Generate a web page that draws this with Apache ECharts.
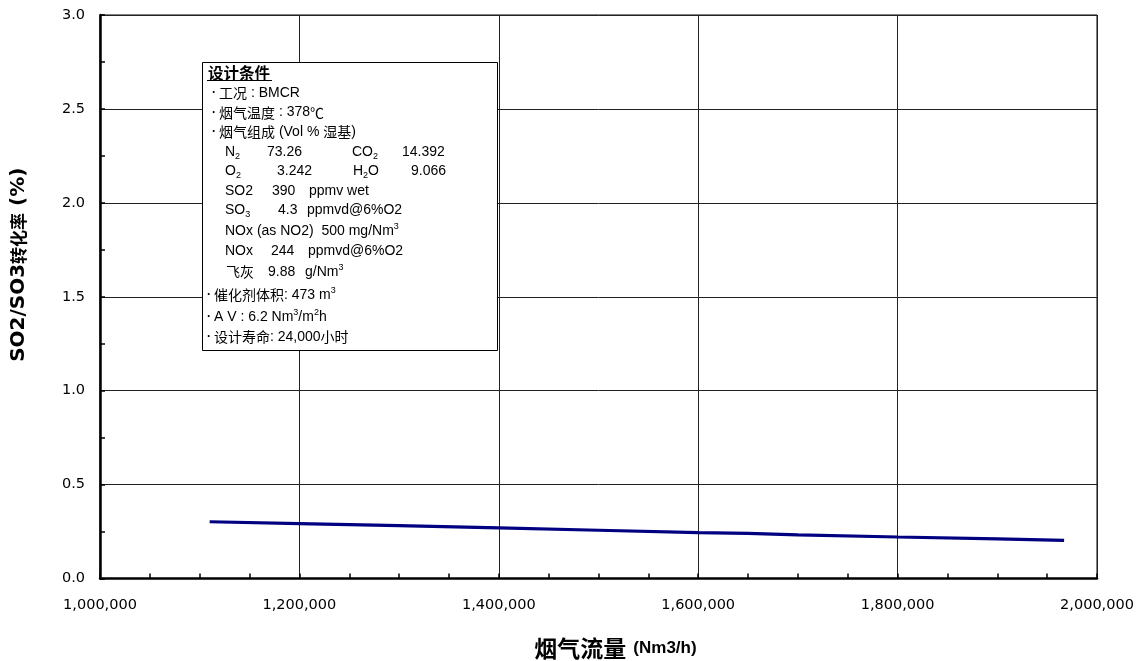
<!DOCTYPE html>
<html>
<head>
<meta charset="utf-8">
<script src="https://cdn.jsdelivr.net/npm/echarts@6/dist/echarts.min.js"></script>
<style>
html,body{margin:0;padding:0;background:#fff;overflow:hidden;width:1145px;height:661px;}
#chart{width:1145px;height:661px;}
</style>
</head>
<body>
<div id="chart"></div>
<script>
// Data
const flowValues = [1110000, 1200000, 1300000, 1400000, 1500000, 1600000, 1650000, 1700000, 1800000, 1900000, 1967000];
const conversionValues = [0.302, 0.292, 0.282, 0.270, 0.257, 0.244, 0.240, 0.232, 0.221, 0.211, 0.203];
const xAxisTitle = '{c|烟气流量}{l|(Nm3/h)}';
const yAxisTitle = '{l|SO2/SO3}{c|转化率}{l| (%)}';

const LAT = '"Liberation Sans", Arial, sans-serif';
const CJK = '"Noto Sans CJK SC", sans-serif';
const TICK = '"DejaVu Sans", sans-serif';

const rich = {
  n: {fontFamily: LAT, fontSize: 14, color: '#000', lineHeight: 18, verticalAlign: 'middle'},
  c: {fontFamily: CJK, fontSize: 14, color: '#000', lineHeight: 18, verticalAlign: 'middle'},
  b: {fontFamily: LAT, fontSize: 12, fontWeight: 'bold', color: '#000', lineHeight: 18, verticalAlign: 'middle', width: 7},
  sub: {fontFamily: LAT, fontSize: 9, color: '#000', lineHeight: 9, verticalAlign: 'bottom'},
  sup: {fontFamily: LAT, fontSize: 9, color: '#000', lineHeight: 9, verticalAlign: 'top'}
};

function t(x, y, str) {
  return {
    type: 'text', x: x, y: y, z: 101,
    style: {text: str, rich: rich, verticalAlign: 'middle', align: 'left'}
  };
}

const noteElements = [
  {type: 'rect', z: 100, shape: {x: 202.5, y: 62.5, width: 295, height: 288},
   style: {fill: '#fff', stroke: '#000', lineWidth: 1}},
  {type: 'text', x: 208, y: 73.5, z: 101,
   style: {text: '设计条件', fontFamily: CJK, fontSize: 15.5, fontWeight: 'bold', fill: '#000', verticalAlign: 'middle', align: 'left'}},
  {type: 'line', z: 101, shape: {x1: 207, y1: 80.5, x2: 272, y2: 80.5}, style: {stroke: '#000', lineWidth: 1.2}},
  t(212, 93, '{b|·}{c|工况}{n| : BMCR}'),
  t(212, 112.5, '{b|·}{c|烟气温度}{n| : 378}{c|℃}'),
  t(212, 132, '{b|·}{c|烟气组成}{n| (Vol % }{c|湿基}{n|)}'),
  t(225, 152, '{n|N}{sub|2}'), t(267, 152, '{n|73.26}'), t(352, 152, '{n|CO}{sub|2}'), t(402, 152, '{n|14.392}'),
  t(225, 171.5, '{n|O}{sub|2}'), t(277, 171.5, '{n|3.242}'), t(353, 171.5, '{n|H}{sub|2}{n|O}'), t(411, 171.5, '{n|9.066}'),
  t(225, 191, '{n|SO2}'), t(272, 191, '{n|390}'), t(309, 191, '{n|ppmv wet}'),
  t(225, 210, '{n|SO}{sub|3}'), t(278, 210, '{n|4.3}'), t(307, 210, '{n|ppmvd@6%O2}'),
  t(225, 231, '{n|NOx (as NO2)  500 mg/Nm}{sup|3}'),
  t(225, 251, '{n|NOx}'), t(271, 251, '{n|244}'), t(308, 251, '{n|ppmvd@6%O2}'),
  t(226, 272, '{c|飞灰}'), t(268, 272, '{n|9.88}'), t(305, 272, '{n|g/Nm}{sup|3}'),
  t(207, 295, '{b|·}{c|催化剂体积}{n|: 473 m}{sup|3}'),
  t(207, 317, '{b|·}{n|A V : 6.2 Nm}{sup|3}{n|/m}{sup|2}{n|h}'),
  t(207, 337, '{b|·}{c|设计寿命}{n|: 24,000}{c|小时}')
];

const chart = echarts.init(document.getElementById('chart'), null, {renderer: 'canvas', width: 1145, height: 661});
chart.setOption({
  animation: false,
  backgroundColor: '#fff',
  grid: {left: 100, right: 48, top: 15, bottom: 82.5, containLabel: false, outerBoundsMode: 'none',
         show: true, borderColor: '#000', borderWidth: 1, backgroundColor: 'transparent'},
  xAxis: {
    type: 'value', min: 1000000, max: 2000000, interval: 200000,
    name: xAxisTitle, nameLocation: 'middle', nameGap: 58,
    nameTextStyle: {
      padding: [0, 0, 0, 34],
      rich: {
        c: {fontFamily: CJK, fontSize: 23, fontWeight: 'bold', color: '#000', lineHeight: 24, verticalAlign: 'middle'},
        l: {fontFamily: LAT, fontSize: 17, fontWeight: 'bold', color: '#000', lineHeight: 24, verticalAlign: 'middle', padding: [0, 0, 0, 7]}
      }
    },
    axisLine: {show: true, onZero: false, lineStyle: {color: '#000', width: 2.5}},
    axisTick: {show: true, inside: true, length: 5, lineStyle: {color: '#000', width: 1.5}},
    minorTick: {show: true, splitNumber: 4, length: 5, lineStyle: {color: '#000', width: 1.5}},
    axisLabel: {formatter: v => v.toLocaleString('en-US'), fontFamily: TICK, fontSize: 14.5, color: '#000', margin: 19},
    splitLine: {show: true, lineStyle: {color: '#222', width: 1}}
  },
  yAxis: {
    type: 'value', min: 0, max: 3, interval: 0.5,
    name: yAxisTitle, nameLocation: 'middle', nameGap: 71, nameRotate: 90,
    nameTextStyle: {
      padding: [0, 0, 0, 64],
      rich: {
        c: {fontFamily: CJK, fontSize: 17, fontWeight: 'bold', color: '#000'},
        l: {fontFamily: TICK, fontSize: 20, fontWeight: 'bold', color: '#000'}
      }
    },
    axisLine: {show: true, onZero: false, lineStyle: {color: '#000', width: 2.5}},
    axisTick: {show: true, inside: true, length: 5, lineStyle: {color: '#000', width: 1.5}},
    minorTick: {show: true, splitNumber: 2, length: 5, lineStyle: {color: '#000', width: 1.5}},
    axisLabel: {formatter: v => v.toFixed(1), fontFamily: TICK, fontSize: 14.5, color: '#000', margin: 15},
    splitLine: {show: true, lineStyle: {color: '#222', width: 1}}
  },
  series: [{
    type: 'line',
    data: flowValues.map((x, i) => [x, conversionValues[i]]),
    showSymbol: false,
    smooth: false,
    lineStyle: {color: '#000080', width: 3.2},
    z: 5
  }],
  graphic: noteElements
});
</script>
</body>
</html>
